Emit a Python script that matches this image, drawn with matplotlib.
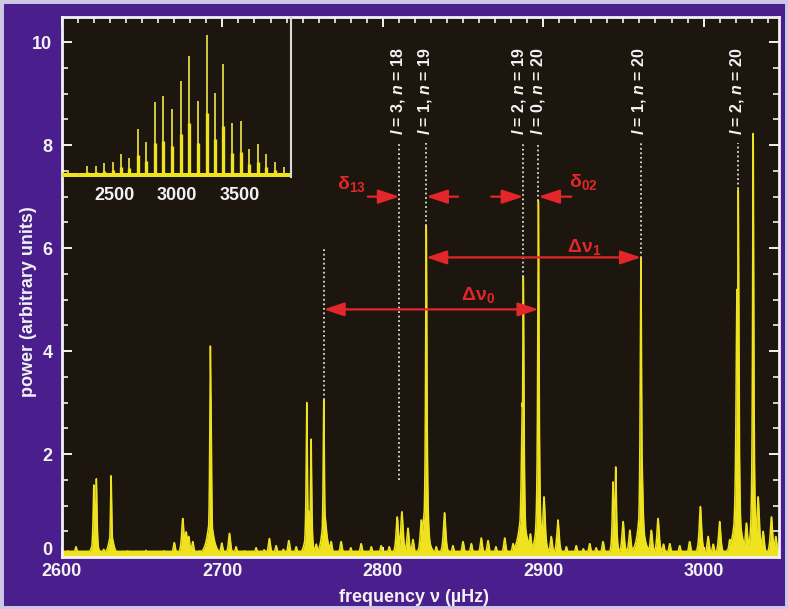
import numpy as np
import matplotlib
matplotlib.use("Agg")
import matplotlib.pyplot as plt
import matplotlib.font_manager as fm
from matplotlib.patches import FancyArrowPatch, Rectangle
from matplotlib.ticker import MultipleLocator, FixedLocator, FuncFormatter

# ---------------------------------------------------------------- data
# resolved p-mode peaks: centre frequency (µHz), peak power, half-width (µHz)
mode_freq = [2619.8, 2621.4, 2620.5, 2630.6, 2630.6,
             2692.5, 2692.8, 2692.5,
             2752.6, 2755.3, 2753.5, 2763.2, 2763.5,
             2827.1, 2826.5,
             2887.6, 2887.0, 2887.0, 2897.0, 2897.2, 2897.0,
             2943.5, 2945.2,
             2960.9, 2961.3, 2960.8,
             3021.6, 3020.8, 3021.0, 3030.9, 3031.0]
mode_power = [1.40, 1.52, 0.45, 1.58, 0.45,
              4.10, 3.20, 0.75,
              3.00, 2.29, 0.90, 3.05, 0.90,
              6.43, 1.00,
              5.44, 3.00, 0.95, 6.92, 2.40, 0.95,
              1.46, 1.75,
              5.80, 2.20, 1.00,
              7.14, 5.20, 1.20, 8.23, 1.00]
mode_width = [0.50, 0.50, 1.8, 0.45, 1.8,
              0.45, 0.45, 2.2,
              0.45, 0.45, 1.6, 0.45, 1.6,
              0.50, 1.8,
              0.50, 0.80, 2.4, 0.50, 0.80, 1.8,
              0.55, 0.55,
              0.50, 0.90, 2.0,
              0.50, 0.70, 2.2, 0.45, 1.6]

# small background peaks (frequency µHz, power)
minor_freq = [2604.0, 2608.7, 2613.0, 2626.0, 2636.0, 2641.0, 2646.5, 2652.4,
              2658.0, 2663.8, 2670.0, 2675.3, 2677.4, 2679.0, 2681.5, 2686.0,
              2699.6, 2704.4, 2708.5, 2714.0, 2721.0, 2726.0, 2729.3, 2733.5,
              2738.0, 2741.4, 2746.0, 2758.5, 2767.8, 2774.0, 2780.0, 2786.5,
              2792.8, 2799.0, 2804.0, 2809.0, 2811.9, 2815.7, 2818.8, 2824.0,
              2833.3, 2838.5, 2843.7, 2850.0, 2855.2, 2861.4, 2865.6, 2870.5,
              2876.0, 2881.2, 2892.0, 2900.5, 2905.0, 2909.2, 2914.4, 2920.6,
              2925.0, 2929.0, 2933.0, 2937.3, 2949.8, 2954.0, 2967.4, 2971.6,
              2975.0, 2978.9, 2985.1, 2991.3, 2998.0, 3002.8, 3006.0, 3010.0,
              3016.3, 3026.7, 3034.0, 3037.1, 3042.3, 3045.0]
minor_power = [0.12, 0.20, 0.10, 0.15, 0.10, 0.12, 0.10, 0.13,
               0.10, 0.12, 0.28, 0.75, 0.49, 0.40, 0.30, 0.12,
               0.27, 0.46, 0.20, 0.12, 0.18, 0.14, 0.36, 0.22,
               0.15, 0.32, 0.20, 0.25, 0.30, 0.30, 0.18, 0.26,
               0.20, 0.22, 0.20, 0.78, 0.88, 0.56, 0.34, 0.72,
               0.20, 0.86, 0.22, 0.30, 0.26, 0.37, 0.32, 0.20,
               0.37, 0.26, 0.45, 1.17, 0.40, 0.72, 0.20, 0.22,
               0.16, 0.26, 0.18, 0.30, 0.69, 0.52, 0.52, 0.75,
               0.25, 0.26, 0.22, 0.30, 0.98, 0.40, 0.25, 0.69,
               0.34, 0.66, 1.17, 0.50, 0.78, 0.40]
minor_width = 0.9
floor_power = 0.11

# identified modes, dotted marker extent (bottom, top)
label_freq = [2810.4, 2827.1, 2887.6, 2897.0, 2960.9, 3021.6]
label_text = [r"$\mathit{l}$ = 3, $\mathit{n}$ = 18",
              r"$\mathit{l}$ = 1, $\mathit{n}$ = 19",
              r"$\mathit{l}$ = 2, $\mathit{n}$ = 19",
              r"$\mathit{l}$ = 0, $\mathit{n}$ = 20",
              r"$\mathit{l}$ = 1, $\mathit{n}$ = 20",
              r"$\mathit{l}$ = 2, $\mathit{n}$ = 20"]
label_shift = [-1.0, -1.0, -2.8, -0.3, -1.0, -1.0]
label_base = [1.50, 6.43, 5.44, 6.92, 5.80, 7.14]
marker_top = 8.04
unlabelled_freq = 2763.2
unlabelled_span = (3.05, 6.03)

# full-range spectrum shown in the inset
inset_freq = [2135, 2221, 2287, 2354, 2420, 2489, 2555, 2622, 2689, 2755,
              2827, 2893, 2965, 3032, 3100, 3172, 3239, 3305, 3371, 3438,
              3510, 3576, 3645, 3709, 3784, 3855]
inset_power = [0.07, 0.04, 0.11, 0.11, 0.14, 0.15, 0.23, 0.19, 0.48, 0.35,
               0.75, 0.81, 0.68, 0.96, 1.21, 0.76, 1.42, 0.84, 1.13, 0.54,
               0.56, 0.28, 0.33, 0.23, 0.15, 0.10]
inset_ticks = [2500, 3000, 3500]

# ---------------------------------------------------------------- style
def pick_font(*names):
    for name in names:
        try:
            fm.findfont(fm.FontProperties(family=name), fallback_to_default=False)
            return name
        except Exception:
            pass
    return "DejaVu Sans"

FONT = pick_font("Liberation Sans Narrow", "Liberation Sans")
plt.rcParams["font.family"] = [FONT, "DejaVu Sans"]
plt.rcParams["font.weight"] = "bold"
plt.rcParams["mathtext.fontset"] = "custom"
plt.rcParams["mathtext.rm"] = f"{FONT}:bold"
plt.rcParams["mathtext.bf"] = f"{FONT}:bold"
plt.rcParams["mathtext.it"] = f"{FONT}:italic:bold"
plt.rcParams["mathtext.sf"] = f"{FONT}:bold"
plt.rcParams["mathtext.default"] = "rm"

PURPLE = "#4a1e8c"
PANEL = "#1c160f"
YELLOW = "#efe21e"
RED = "#e3262a"
WHITE = "#f2f2f2"
DOT = "#dcdcd2"

W, H = 788, 609
fig = plt.figure(figsize=(W / 100, H / 100), dpi=100, facecolor=PURPLE)

ax = fig.add_axes([62 / W, 1 - 557 / H, 717 / W, 540 / H], facecolor=PANEL)
ax.set_xlim(2600, 3047)
ax.set_ylim(0, 10.49)

# spectrum: each peak profile drawn at its listed height (envelope of all peaks)
freq = np.linspace(2600, 3047, 30000)
power = np.full_like(freq, floor_power)
for f0, p0, g in zip(mode_freq, mode_power, mode_width):
    power = np.maximum(power, p0 / (1 + ((freq - f0) / g) ** 2))
for f0, p0 in zip(minor_freq, minor_power):
    power = np.maximum(power, p0 / (1 + ((freq - f0) / minor_width) ** 2))
ax.fill_between(freq, 0, power, color=YELLOW, lw=0, zorder=2)
ax.plot(freq, power, color=YELLOW, lw=1.1, zorder=2)

# mode markers and labels
for f0, txt, base, dx in zip(label_freq, label_text, label_base, label_shift):
    ax.plot([f0, f0], [base, marker_top], color=DOT, lw=1.3,
            ls=(0, (1, 1.5)), zorder=3)
    ax.text(f0 + dx, 8.19, txt, rotation=90, ha="center", va="bottom",
            color=WHITE, fontsize=11.5, zorder=4)
ax.plot([unlabelled_freq] * 2, unlabelled_span, color=DOT, lw=1.3,
        ls=(0, (1, 1.5)), zorder=3)

# separations
def arrow(x0, x1, y, style):
    ax.add_patch(FancyArrowPatch((x0, y), (x1, y), arrowstyle=style,
                                 mutation_scale=1, color=RED, lw=1.6,
                                 shrinkA=0, shrinkB=0, zorder=5))

small = "-|>,head_length=13,head_width=4.3"
both = "<|-|>,head_length=12.5,head_width=4.2"
y_small = 7.0
arrow(label_freq[0] - 19.7, label_freq[0], y_small, small)
arrow(label_freq[1] + 19.8, label_freq[1], y_small, small)
arrow(label_freq[2] - 20.0, label_freq[2], y_small, small)
arrow(label_freq[3] + 20.5, label_freq[3], y_small, small)
arrow(label_freq[1], label_freq[4], 5.82, both)
arrow(unlabelled_freq, label_freq[3], 4.81, both)

ax.text(2780.6, 7.25, r"$\delta_{13}$", color=RED, fontsize=14,
        ha="center", va="center", zorder=5)
ax.text(2925.3, 7.29, r"$\delta_{02}$", color=RED, fontsize=14,
        ha="center", va="center", zorder=5)
ax.text(2925.3, 6.03, r"$\Delta\nu_1$", color=RED, fontsize=14,
        ha="center", va="center", zorder=5)
ax.text(2859.5, 5.09, r"$\Delta\nu_0$", color=RED, fontsize=14,
        ha="center", va="center", zorder=5)

# axes decoration
ax.xaxis.set_major_locator(MultipleLocator(100))
ax.xaxis.set_minor_locator(MultipleLocator(10))
ax.yaxis.set_major_locator(MultipleLocator(2))
ax.yaxis.set_minor_locator(MultipleLocator(0.5))
# the zero label is placed separately, a little above its tick
ax.yaxis.set_major_formatter(FuncFormatter(lambda v, p: "" if v == 0 else f"{v:g}"))
ax.tick_params(which="both", direction="in", colors=WHITE, top=True,
               right=True, labelsize=13, zorder=6)
ax.tick_params(which="major", length=7.5, width=1.4)
ax.tick_params(which="minor", length=4.5, width=1.2)
ax.tick_params(axis="x", pad=4.5)
ax.tick_params(axis="y", pad=7)
for lab in ax.get_xticklabels() + ax.get_yticklabels():
    lab.set_fontweight("bold")
ax.annotate("0", xy=(0, 0), xycoords=("axes fraction", "data"),
            xytext=(-7, 4.5), textcoords="offset points", ha="right",
            va="center", color=WHITE, fontsize=13, fontweight="bold")
for side in ("left", "right", "top", "bottom"):
    ax.spines[side].set_color(WHITE)
    ax.spines[side].set_linewidth(2)
    ax.spines[side].set_zorder(6)

fig.text(414 / W, 1 - 598 / H, "frequency ν (µHz)", color=WHITE,
         fontsize=13, ha="center", va="center")
fig.text(29 / W, 1 - 302 / H, "power (arbitrary units)", color=WHITE,
         fontsize=13, ha="center", va="center", rotation=90)

# inset: wide-range spectrum
axi = fig.add_axes([62 / W, 1 - 177 / H, 229 / W, 160 / H], facecolor="none")
axi.set_xlim(2085, 3912)
axi.set_ylim(0, 1.6)
axi.fill_between([2085, 3912], 0, 0.045, color=YELLOW, lw=0)
axi.vlines(inset_freq, 0, inset_power, color="#e2d641", lw=1.3)
axi.vlines(inset_freq, 0, [0.45 * p for p in inset_power], color=YELLOW, lw=2.4)
axi.xaxis.set_major_locator(FixedLocator(inset_ticks))
axi.set_yticks([])
axi.tick_params(axis="x", length=0, pad=7, colors=WHITE, labelsize=13)
for lab in axi.get_xticklabels():
    lab.set_fontweight("bold")
for side in ("left", "top", "bottom"):
    axi.spines[side].set_visible(False)
axi.spines["right"].set_color("#d8d8d8")
axi.spines["right"].set_linewidth(1.5)

# outer frame
fig.add_artist(Rectangle((0, 0), 1, 1, transform=fig.transFigure, fill=False,
                         edgecolor="#cdc6e4", lw=5))

fig.savefig("out.png", dpi=100, facecolor=PURPLE)
